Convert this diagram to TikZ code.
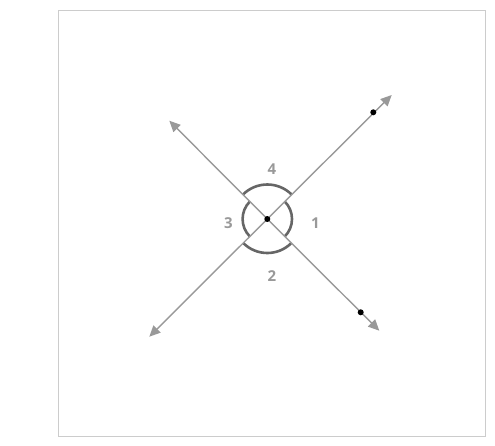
\documentclass[tikz,border=0pt]{standalone}
\usepackage{fontspec}
\setmainfont{Open Sans}
\usetikzlibrary{arrows.meta}
\definecolor{lineg}{HTML}{999999}
\definecolor{arcg}{HTML}{666666}
\definecolor{frameg}{HTML}{CCCCCC}
\definecolor{labg}{HTML}{999999}
\tikzset{
  ray/.style={draw=lineg, line width=1.4pt, -{Triangle[length=11pt,width=10pt]}},
  anglearc/.style={draw=arcg, line width=2.6pt},
  pt/.style={circle, fill=black, inner sep=0pt, minimum size=6pt},
  lab/.style={text=labg, font=\fontsize{15}{15}\selectfont\bfseries, inner sep=0pt},
}
\begin{document}
\begin{tikzpicture}[x=1pt,y=-1pt]
\useasboundingbox (0,0) rectangle (495,445);
\draw[frameg, line width=1pt] (58.5,10.5) rectangle (485.5,436.5);
\coordinate (O) at (267.3,219);
\coordinate (NE) at (391.7,95);
\coordinate (NW) at (169.3,120.7);
\coordinate (SW) at (149.3,336.7);
\coordinate (SE) at (379.3,330.7);
% angle arcs (y axis points down: angle a in TikZ is screen angle -a)
\draw[anglearc] ([shift={(-45:34.5)}]O) arc[start angle=-45, end angle=-135, radius=34.5];
\draw[anglearc] ([shift={(45:34)}]O) arc[start angle=45, end angle=135, radius=34];
\draw[anglearc] ([shift={(-135:24.7)}]O) arc[start angle=-135, end angle=-225, radius=24.7];
\draw[anglearc] ([shift={(-45:24.7)}]O) arc[start angle=-45, end angle=45, radius=24.7];
% rays
\draw[ray] (O) -- (NE);
\draw[ray] (O) -- (NW);
\draw[ray] (O) -- (SW);
\draw[ray] (O) -- (SE);
\node[pt] (c) at (O) {};
\node[pt] (d1) at (373.3,112.3) {};
\node[pt] (d2) at (360.7,312.3) {};
\node[lab] (l4) at (272,169.5) {4};
\node[lab] (l1) at (315.5,223.5) {1};
\node[lab] (l3) at (228.5,223) {3};
\node[lab] (l2) at (272,276) {2};
\end{tikzpicture}
\end{document}
